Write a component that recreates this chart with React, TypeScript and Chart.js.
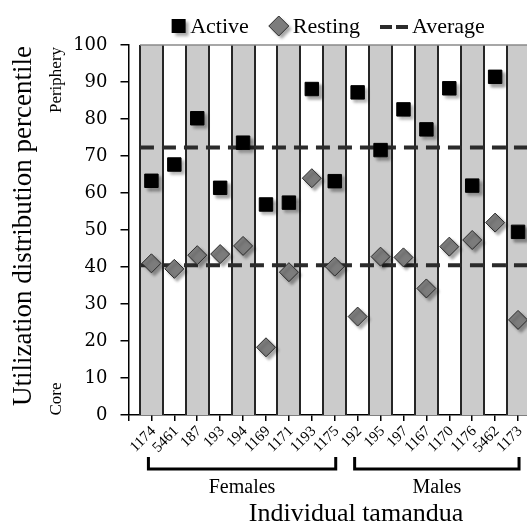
import React, { useEffect, useRef } from 'react';
import { Chart, registerables } from 'chart.js';

Chart.register(...registerables);

const categories = ['1174', '5461', '187', '193', '194', '1169', '1171', '1193', '1175', '192', '195', '197', '1167', '1170', '1176', '5462', '1173'];
const activeValues = [63.3, 67.7, 80.2, 61.4, 73.6, 56.9, 57.4, 88.1, 63.2, 87.2, 71.6, 82.6, 77.2, 88.3, 62.0, 91.4, 49.5];
const restingValues = [41.0, 39.5, 43.2, 43.5, 45.7, 18.3, 38.6, 64.0, 40.1, 26.6, 42.8, 42.6, 34.2, 45.5, 47.3, 52.0, 25.7];
const activeAverage = 72.3;
const restingAverage = 40.5;
const groupLabels = ['Females', 'Males'];
const groupStarts = [0, 9];
const groupEnds = [8, 16];
const yTickStep = 10;

const SERIF = '"Liberation Serif", "Times New Roman", serif';
const TICK_SERIF = '"DejaVu Serif", serif';

const shadowPlugin = {
  id: 'shadowPlugin',
  beforeDatasetDraw(chart: any, args: any) {
    const ds = chart.data.datasets[args.index];
    if (ds.showLine) return;
    const ctx = chart.ctx;
    ctx.save();
    ctx.shadowColor = 'rgba(0,0,0,0.35)';
    ctx.shadowOffsetX = 3;
    ctx.shadowOffsetY = 3;
    ctx.shadowBlur = 3;
  },
  afterDatasetDraw(chart: any, args: any) {
    const ds = chart.data.datasets[args.index];
    if (ds.showLine) return;
    chart.ctx.restore();
  },
};

const bandsPlugin = {
  id: 'bandsPlugin',
  beforeDatasetsDraw(chart: any) {
    const { ctx, chartArea } = chart;
    const x = chart.scales.x;
    ctx.save();
    ctx.fillStyle = '#cbcbcb';
    categories.forEach((_, i) => {
      if (i % 2 === 0) {
        const l = x.getPixelForValue(i + 0.5);
        const r = x.getPixelForValue(i + 1.5);
        ctx.fillRect(l, chartArea.top, r - l, chartArea.bottom - chartArea.top);
      }
    });
    ctx.strokeStyle = '#262626';
    ctx.lineWidth = 2;
    for (let k = 0; k <= categories.length; k++) {
      const px = Math.round(x.getPixelForValue(k + 0.5));
      ctx.beginPath();
      ctx.moveTo(px, chartArea.top);
      ctx.lineTo(px, chartArea.bottom);
      ctx.stroke();
    }
    ctx.strokeStyle = '#8a8a8a';
    ctx.lineWidth = 1.5;
    ctx.beginPath();
    ctx.moveTo(x.getPixelForValue(0.5), chartArea.top);
    ctx.lineTo(chartArea.right, chartArea.top);
    ctx.stroke();
    ctx.restore();
  },
};

function drawSquare(ctx: CanvasRenderingContext2D, cx: number, cy: number, s: number) {
  ctx.save();
  ctx.shadowColor = 'rgba(0,0,0,0.35)';
  ctx.shadowOffsetX = 3;
  ctx.shadowOffsetY = 3;
  ctx.shadowBlur = 3;
  ctx.fillStyle = '#000';
  ctx.fillRect(cx - s / 2, cy - s / 2, s, s);
  ctx.restore();
}

function drawDiamond(ctx: CanvasRenderingContext2D, cx: number, cy: number, r: number) {
  ctx.save();
  ctx.shadowColor = 'rgba(0,0,0,0.35)';
  ctx.shadowOffsetX = 3;
  ctx.shadowOffsetY = 3;
  ctx.shadowBlur = 3;
  ctx.beginPath();
  ctx.moveTo(cx, cy - r);
  ctx.lineTo(cx + r, cy);
  ctx.lineTo(cx, cy + r);
  ctx.lineTo(cx - r, cy);
  ctx.closePath();
  ctx.fillStyle = '#7c7c7c';
  ctx.fill();
  ctx.shadowColor = 'transparent';
  ctx.strokeStyle = '#2a2a2a';
  ctx.lineWidth = 1;
  ctx.stroke();
  ctx.restore();
}

const annotationsPlugin = {
  id: 'annotationsPlugin',
  afterDraw(chart: any) {
    const { ctx, chartArea } = chart;
    const x = chart.scales.x;
    ctx.save();
    ctx.fillStyle = '#000';

    // Legend
    ctx.font = `22px ${SERIF}`;
    ctx.textBaseline = 'alphabetic';
    ctx.textAlign = 'left';
    const items = ['Active', 'Resting', 'Average'];
    const markerW = [15, 20, 28];
    const gapAfterMarker = 4;
    const gapBetween = 20;
    let total = 0;
    items.forEach((t, i) => {
      total += markerW[i] + gapAfterMarker + ctx.measureText(t).width;
      if (i < items.length - 1) total += gapBetween;
    });
    let cx = 328 - total / 2;
    const legendY = 26;
    items.forEach((t, i) => {
      if (i === 0) drawSquare(ctx, cx + 7.5, legendY, 14);
      if (i === 1) drawDiamond(ctx, cx + 10, legendY, 10);
      if (i === 2) {
        ctx.fillStyle = '#2b2b2b';
        ctx.fillRect(cx, legendY - 1, 12, 4);
        ctx.fillRect(cx + 16, legendY - 1, 12, 4);
        ctx.fillStyle = '#000';
      }
      cx += markerW[i] + gapAfterMarker;
      ctx.fillText(t, cx, legendY + 7);
      cx += ctx.measureText(t).width + gapBetween;
    });

    // X tick labels, rotated 45 degrees
    ctx.font = `15px ${SERIF}`;
    categories.forEach((c, i) => {
      const px = x.getPixelForValue(i + 1);
      ctx.save();
      ctx.translate(px + 2, chartArea.bottom + 14);
      ctx.rotate(-Math.PI / 4);
      ctx.textAlign = 'right';
      ctx.textBaseline = 'middle';
      ctx.fillText(c, 0, 0);
      ctx.restore();
    });

    // Y axis title
    ctx.save();
    ctx.translate(24, (chartArea.top + chartArea.bottom) / 2 - 4);
    ctx.rotate(-Math.PI / 2);
    ctx.textAlign = 'center';
    ctx.textBaseline = 'middle';
    ctx.font = `27px ${SERIF}`;
    ctx.fillText('Utilization distribution percentile', 0, 0);
    ctx.restore();

    // Periphery / Core
    ctx.font = `17px ${SERIF}`;
    ctx.save();
    ctx.translate(57, 80);
    ctx.rotate(-Math.PI / 2);
    ctx.textAlign = 'center';
    ctx.textBaseline = 'middle';
    ctx.fillText('Periphery', 0, 0);
    ctx.restore();
    ctx.save();
    ctx.translate(57, 399);
    ctx.rotate(-Math.PI / 2);
    ctx.textAlign = 'center';
    ctx.textBaseline = 'middle';
    ctx.fillText('Core', 0, 0);
    ctx.restore();

    // Group brackets
    ctx.strokeStyle = '#000';
    ctx.lineWidth = 3;
    ctx.font = `20px ${SERIF}`;
    ctx.textAlign = 'center';
    ctx.textBaseline = 'alphabetic';
    groupLabels.forEach((g, i) => {
      const l = x.getPixelForValue(groupStarts[i] + 1) - 3;
      const r = x.getPixelForValue(groupEnds[i] + 1) + 1;
      ctx.beginPath();
      ctx.moveTo(l, 457);
      ctx.lineTo(l, 469);
      ctx.lineTo(r, 469);
      ctx.lineTo(r, 457);
      ctx.stroke();
      ctx.fillText(g, (l + r) / 2, 493);
    });

    // X axis title
    ctx.font = `26px ${SERIF}`;
    ctx.fillText('Individual tamandua', 356, 521);
    ctx.restore();
  },
};

export default function App() {
  const canvasRef = useRef<HTMLCanvasElement | null>(null);

  useEffect(() => {
    const canvas = canvasRef.current;
    if (!canvas) return;
    const chart = new Chart(canvas, {
      type: 'scatter',
      data: {
        datasets: [
          {
            label: 'Active',
            data: categories.map((_, i) => ({ x: i + 1, y: activeValues[i] })),
            pointStyle: 'rect',
            pointRadius: 9.5,
            pointHoverRadius: 9.5,
            backgroundColor: '#000',
            borderColor: '#000',
            borderWidth: 1,
            order: 0,
          },
          {
            label: 'Resting',
            data: categories.map((_, i) => ({ x: i + 1, y: restingValues[i] })),
            pointStyle: 'rectRot',
            pointRadius: 9.5,
            pointHoverRadius: 9.5,
            backgroundColor: '#7c7c7c',
            borderColor: '#2a2a2a',
            borderWidth: 1,
            order: 1,
          },
          {
            label: 'Average active',
            data: [
              { x: 0.5, y: activeAverage },
              { x: categories.length + 0.5, y: activeAverage },
            ],
            showLine: true,
            borderColor: '#2b2b2b',
            borderWidth: 4,
            borderDash: [14, 8],
            pointRadius: 0,
            order: 5,
          },
          {
            label: 'Average resting',
            data: [
              { x: 0.5, y: restingAverage },
              { x: categories.length + 0.5, y: restingAverage },
            ],
            showLine: true,
            borderColor: '#2b2b2b',
            borderWidth: 4,
            borderDash: [14, 8],
            pointRadius: 0,
            order: 5,
          },
        ],
      },
      options: {
        responsive: false,
        animation: false,
        events: [],
        layout: { padding: { top: 45, right: 2, left: 0, bottom: 0 } },
        plugins: {
          legend: { display: false },
          tooltip: { enabled: false },
        },
        scales: {
          x: {
            type: 'linear',
            min: 0,
            max: categories.length + 0.5,
            afterBuildTicks: (scale: any) => {
              scale.ticks = [{ value: 0 }, ...categories.map((_, i) => ({ value: i + 1 }))];
            },
            afterFit: (scale: any) => {
              scale.height = 108;
            },
            ticks: { display: false },
            grid: { drawOnChartArea: false, drawTicks: true, tickLength: 6, color: '#000', lineWidth: 1.5 },
            border: { display: true, color: '#000', width: 1.5 },
          },
          y: {
            min: 0,
            max: 100,
            afterFit: (scale: any) => {
              scale.width = 128.5;
            },
            ticks: {
              stepSize: yTickStep,
              padding: 13,
              color: '#000',
              font: { family: TICK_SERIF, size: 18 },
            },
            grid: { drawOnChartArea: false, drawTicks: true, tickLength: 8, color: '#000', lineWidth: 1.5 },
            border: { display: true, color: '#000', width: 1.5 },
          },
        },
      },
      plugins: [bandsPlugin, shadowPlugin, annotationsPlugin],
    });
    return () => chart.destroy();
  }, []);

  return (
    <div style={{ position: 'fixed', left: 0, top: 0, width: 527, height: 523, overflow: 'hidden', background: '#fff' }}>
      <canvas ref={canvasRef} width={540} height={523} style={{ display: 'block' }} />
    </div>
  );
}
